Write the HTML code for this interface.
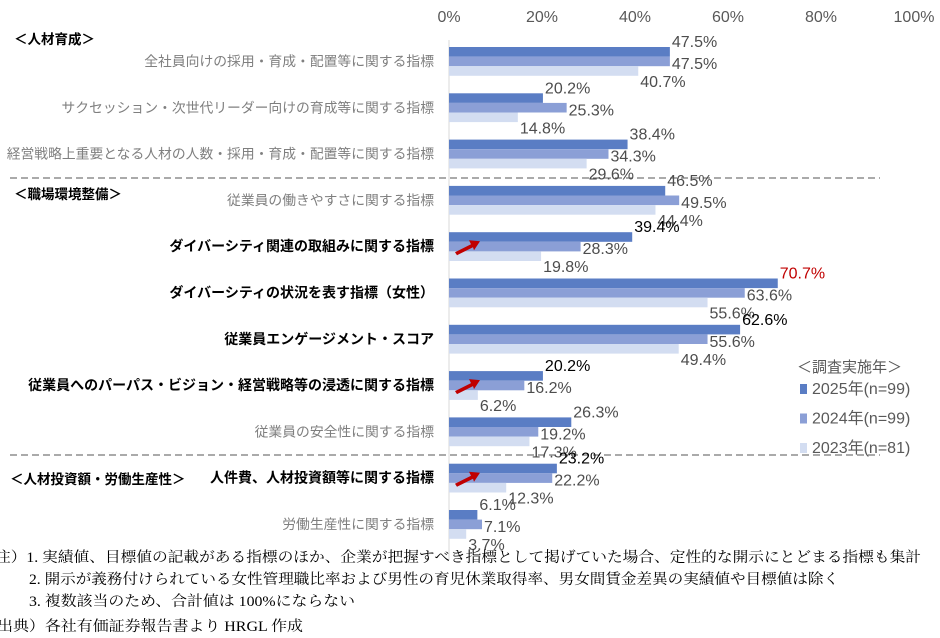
<!DOCTYPE html>
<html><head><meta charset="utf-8"><style>
body{margin:0;background:#fff;}
svg{display:block;font-family:"Liberation Sans","Noto Sans CJK JP",sans-serif;}
</style></head><body>
<svg id="chart" width="940" height="638" viewBox="0 0 940 638" xmlns="http://www.w3.org/2000/svg"></svg>
<script>
const categories=["全社員向けの採用・育成・配置等に関する指標","サクセッション・次世代リーダー向けの育成等に関する指標","経営戦略上重要となる人材の人数・採用・育成・配置等に関する指標","従業員の働きやすさに関する指標","ダイバーシティ関連の取組みに関する指標","ダイバーシティの状況を表す指標（女性）","従業員エンゲージメント・スコア","従業員へのパーパス・ビジョン・経営戦略等の浸透に関する指標","従業員の安全性に関する指標","人件費、人材投資額等に関する指標","労働生産性に関する指標"];
const boldCats=[4,5,6,7,9];
const arrowCats=[4,7,9];
const s2025=[47.5,20.2,38.4,46.5,39.4,70.7,62.6,20.2,26.3,23.2,6.1];
const s2024=[47.5,25.3,34.3,49.5,28.3,63.6,55.6,16.2,19.2,22.2,7.1];
const s2023=[40.7,14.8,29.6,44.4,19.8,55.6,49.4,6.2,17.3,12.3,3.7];
const seriesNames=["2025年(n=99)","2024年(n=99)","2023年(n=81)"];
const ticks=[0,20,40,60,80,100];

const NS="http://www.w3.org/2000/svg";
const svg=document.getElementById('chart');
const x0=449, pxPer=4.65;
const xs=v=>x0+v*pxPer;
const gTop=i=>47+i*46.3;
const barH=9.6;
const colors=["#5a7dc4","#8b9fd6","#d3ddf1"];
function el(t,a,txt){const e=document.createElementNS(NS,t);for(const k in a)e.setAttribute(k,a[k]);if(txt!==undefined)e.textContent=txt;svg.appendChild(e);return e;}

ticks.forEach(t=>{
  const e=el('text',{x:xs(t),y:22,'font-size':16,fill:'#595959','text-anchor':'middle'},t+'%');
  
  
});
const ax=el('line',{x1:x0,y1:40,x2:x0,y2:560,stroke:'#d9d9d9','stroke-width':1});



[178,455].forEach((y,i)=>{
  const d=el('line',{x1:10,y1:y,x2:880,y2:y,stroke:'#555','stroke-width':1,'stroke-dasharray':'7,4'});
  
  
});

const series=[s2025,s2024,s2023];
categories.forEach((c,i)=>{
  const top=gTop(i);
  const bold=boldCats.includes(i);
  const lab=el('text',{x:434,y:top+19,'font-size':bold?14:13.8,'font-weight':bold?'bold':'normal',fill:bold?'#000':'#7f7f7f','text-anchor':'end'},c);
  
  
  series.forEach((s,j)=>{
    const r=el('rect',{x:x0,y:top+j*barH,width:s[i]*pxPer,height:barH,fill:colors[j]});
    
    
    const ly=[top,top+22,top+40][j];
    const red=(j===0&&s[i]===Math.max(...s2025));
    const t=el('text',{x:xs(s[i])+2,y:ly,'font-size':16,fill:red?'#c00000':(j===0&&bold?'#000':'#4d4d4d')},s[i].toFixed(1)+'%');
    
    
  });
  if(arrowCats.includes(i)){
    const a=el('path',{d:`M ${x0+6} ${top+20} L ${x0+22} ${top+12} L ${x0+20} ${top+8} L ${x0+31} ${top+9} L ${x0+25} ${top+18} L ${x0+24} ${top+15} L ${x0+8} ${top+23} Z`,fill:'#c00000'});
    
    
  }
});

const sec=[["＜人材育成＞",14,44],["＜職場環境整備＞",14,199],["＜人材投資額・労働生産性＞",10,484]];
sec.forEach((s,i)=>{
  const t=el('text',{x:s[1],y:s[2],'font-size':13.5,'font-weight':'bold',fill:'#000'},s[0]);
  
  
});

const lt=el('text',{x:797,y:372,'font-size':15,fill:'#595959'},'＜調査実施年＞');


seriesNames.forEach((n,j)=>{
  const y=394+j*29.5;
  const r=el('rect',{x:800,y:y-10,width:7,height:10,fill:colors[j]});
  
  
  const t=el('text',{x:812,y:y,'font-size':16,fill:'#595959'},n);
  
  
});

const notes=[["注）1. 実績値、目標値の記載がある指標のほか、企業が把握すべき指標として掲げていた場合、定性的な開示にとどまる指標も集計",-5,562,926],
["2. 開示が義務付けられている女性管理職比率および男性の育児休業取得率、男女間賃金差異の実績値や目標値は除く",29,584,810],
["3. 複数該当のため、合計値は 100%にならない",29,606,326],
["出典）各社有価証券報告書より HRGL 作成",-3,631,306]];
notes.forEach((n,i)=>{
  const t=el('text',{x:n[1],y:n[2],'font-size':14.5,fill:'#000',textLength:n[3],lengthAdjust:'spacingAndGlyphs','font-family':'"Liberation Serif","Noto Serif CJK SC",serif'},n[0]);
  
  
});
</script>
</body></html>
